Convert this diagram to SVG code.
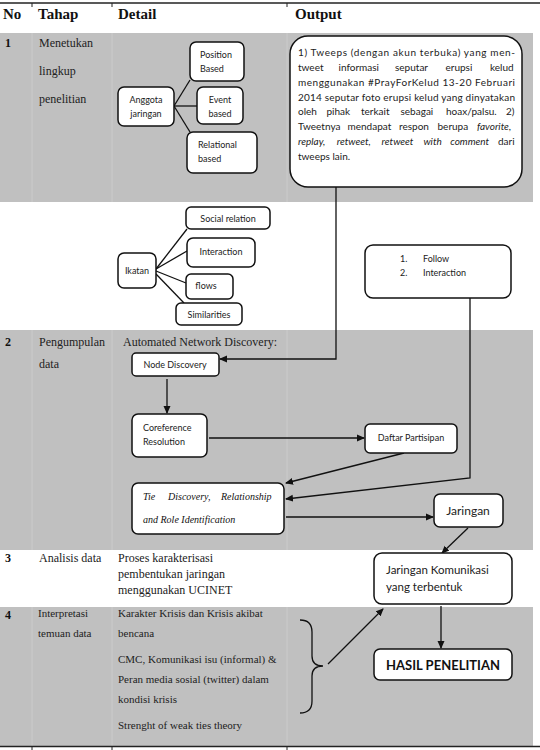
<svg xmlns="http://www.w3.org/2000/svg" width="540" height="750" viewBox="0 0 540 750">
<style>
.serif{font-family:"Liberation Serif","Times New Roman",serif;fill:#111}
.hd{font-family:"Liberation Serif",serif;font-weight:bold;font-size:15px;fill:#111}
.cell{font-family:"Liberation Serif",serif;font-size:12px;fill:#222}
.cells{font-family:"Liberation Serif",serif;font-size:11px;fill:#222}
.num{font-family:"Liberation Serif",serif;font-weight:bold;font-size:12px;fill:#111}
.box{fill:#fff;stroke:#111;stroke-width:1.5}
.lbl{font-family:Lato,"Open Sans",sans-serif;font-size:9px;fill:#222}
.tw{font-family:Lato,"Open Sans",sans-serif;font-size:10px;fill:#222}
.conn{fill:none;stroke:#111;stroke-width:1.3}
.grid{stroke:#cbcbcb;stroke-width:1}
</style>
<defs>
<marker id="ah" markerWidth="8" markerHeight="8" refX="7" refY="4" orient="auto" markerUnits="userSpaceOnUse">
<path d="M0,0.5 L8,4 L0,7.5 Z" fill="#111"/>
</marker>
</defs>
<rect width="540" height="750" fill="#fff"/>
<g id="table">
<rect x="0" y="33" width="533" height="169" fill="#c0c0c0"/>
<rect x="0" y="330" width="533" height="220" fill="#c0c0c0"/>
<rect x="0" y="607" width="533" height="139" fill="#c0c0c0"/>
<line class="grid" x1="32" y1="33" x2="32" y2="202"/>
<line class="grid" x1="112" y1="33" x2="112" y2="202"/>
<line class="grid" x1="287" y1="33" x2="287" y2="202"/>
<line class="grid" x1="32" y1="330" x2="32" y2="550"/>
<line class="grid" x1="112" y1="330" x2="112" y2="550"/>
<line class="grid" x1="287" y1="330" x2="287" y2="550"/>
<line class="grid" x1="32" y1="607" x2="32" y2="746"/>
<line class="grid" x1="112" y1="607" x2="112" y2="746"/>
<line class="grid" x1="287" y1="607" x2="287" y2="746"/>
<line x1="0" y1="3" x2="540" y2="3" stroke="#222" stroke-width="1.5"/>
<line x1="0" y1="746.5" x2="540" y2="746.5" stroke="#222" stroke-width="1.5"/>
<line x1="32" y1="3" x2="32" y2="7" stroke="#222"/>
<line x1="112" y1="3" x2="112" y2="7" stroke="#222"/>
<line x1="287" y1="3" x2="287" y2="7" stroke="#222"/>
<line x1="32" y1="746" x2="32" y2="750" stroke="#222"/>
<line x1="112" y1="746" x2="112" y2="750" stroke="#222"/>
<line x1="287" y1="746" x2="287" y2="750" stroke="#222"/>
<text class="hd" x="3" y="19">No</text>
<text class="hd" x="38" y="19">Tahap</text>
<text class="hd" x="118" y="19">Detail</text>
<text class="hd" x="295" y="19">Output</text>
<text class="num" x="5" y="47">1</text>
<text class="cell" x="39" y="47">Menetukan</text>
<text class="cell" x="39" y="75">lingkup</text>
<text class="cell" x="39" y="103">penelitian</text>
<text class="num" x="5" y="346">2</text>
<text class="cell" x="39" y="346">Pengumpulan</text>
<text class="cell" x="39" y="368">data</text>
<text class="cell" x="123" y="346">Automated Network Discovery:</text>
<text class="num" x="5" y="562">3</text>
<text class="cell" x="39" y="562">Analisis data</text>
<text class="cell" x="118" y="562">Proses karakterisasi</text>
<text class="cell" x="118" y="578">pembentukan jaringan</text>
<text class="cell" x="118" y="594">menggunakan UCINET</text>
<text class="num" x="5" y="619">4</text>
<text class="cells" x="38" y="617" font-size="10.5">Interpretasi</text>
<text class="cells" x="38" y="637" font-size="10.5">temuan data</text>
<text class="cells" x="118" y="617">Karakter Krisis dan Krisis akibat</text>
<text class="cells" x="118" y="637">bencana</text>
<text class="cells" x="118" y="663">CMC, Komunikasi isu (informal) &amp;</text>
<text class="cells" x="118" y="683">Peran media sosial (twitter) dalam</text>
<text class="cells" x="118" y="703">kondisi krisis</text>
<text class="cells" x="118" y="729">Strenght of weak ties theory</text>
</g>
<g id="connectors">
<line class="conn" x1="174" y1="106" x2="190" y2="80"/>
<line class="conn" x1="174" y1="106" x2="197" y2="106"/>
<line class="conn" x1="174" y1="106" x2="190" y2="132"/>
<line class="conn" x1="156" y1="269" x2="187" y2="229"/>
<line class="conn" x1="156" y1="269" x2="187" y2="251"/>
<line class="conn" x1="156" y1="271" x2="186" y2="283"/>
<line class="conn" x1="156" y1="274" x2="184" y2="303"/>
<polyline class="conn" points="336,187 336,359 220,359" marker-end="url(#ah)"/>
<polyline class="conn" points="470,298 470,478 286,499" marker-end="url(#ah)"/>
<line class="conn" x1="167" y1="379" x2="167" y2="413" marker-end="url(#ah)"/>
<line class="conn" x1="209" y1="438" x2="364" y2="438" marker-end="url(#ah)"/>
<line class="conn" x1="404" y1="453" x2="286" y2="483" marker-end="url(#ah)"/>
<line class="conn" x1="286" y1="517" x2="433" y2="517" marker-end="url(#ah)"/>
<line class="conn" x1="468" y1="528" x2="442" y2="553" marker-end="url(#ah)"/>
<line class="conn" x1="441" y1="606" x2="441" y2="648" marker-end="url(#ah)"/>
<line class="conn" x1="328" y1="664" x2="383" y2="609" marker-end="url(#ah)"/>
<path class="conn" d="M300,620 Q312,620 312,632 L312,656 Q312,666 323,666 Q312,666 312,676 L312,701 Q312,713 300,713"/>
</g>
<g id="anggota"><rect class="box" x="118" y="87" width="56" height="39" rx="6"/>
<text class="lbl" x="146" y="103" text-anchor="middle">Anggota</text><text class="lbl" x="146" y="117" text-anchor="middle">jaringan</text></g>
<g id="position"><rect class="box" x="190" y="42" width="54" height="39" rx="6"/>
<text class="lbl" x="200" y="58">Position</text><text class="lbl" x="200" y="72">Based</text></g>
<g id="event"><rect class="box" x="197" y="87" width="46" height="37" rx="6"/>
<text class="lbl" x="220" y="103" text-anchor="middle">Event</text><text class="lbl" x="220" y="117" text-anchor="middle">based</text></g>
<g id="relational"><rect class="box" x="187" y="132" width="70" height="41" rx="6"/>
<text class="lbl" x="198" y="148">Relational</text><text class="lbl" x="198" y="162">based</text></g>
<g id="tweeps"><rect class="box" x="290" y="36" width="232" height="151" rx="18"/>
<text class="tw" x="298" y="56" textLength="217" lengthAdjust="spacing">1) Tweeps (dengan akun terbuka) yang men-</text>
<text class="tw" y="71"><tspan x="298">tweet</tspan><tspan x="338.5">informasi</tspan><tspan x="395">seputar</tspan><tspan x="445.5">erupsi</tspan><tspan x="490">kelud</tspan></text>
<text class="tw" x="298" y="86" textLength="217" lengthAdjust="spacing">menggunakan #PrayForKelud 13-20 Februari</text>
<text class="tw" x="298" y="101" textLength="217" lengthAdjust="spacing">2014 seputar foto erupsi kelud yang dinyatakan</text>
<text class="tw" y="115"><tspan x="298">oleh</tspan><tspan x="326.5">pihak</tspan><tspan x="361">terkait</tspan><tspan x="400.5">sebagai</tspan><tspan x="446">hoax/palsu.</tspan><tspan x="506">2)</tspan></text>
<text class="tw" y="130"><tspan x="298">Tweetnya</tspan><tspan x="347.5">mendapat</tspan><tspan x="399">respon</tspan><tspan x="437.5">berupa</tspan><tspan x="477" font-style="italic">favorite,</tspan></text>
<text class="tw" y="145" font-style="italic"><tspan x="298">replay,</tspan><tspan x="336.8">retweet,</tspan><tspan x="381.6">retweet</tspan><tspan x="423.4">with</tspan><tspan x="450.2">comment</tspan><tspan x="498" font-style="normal">dari</tspan></text>
<text class="tw" x="298" y="160">tweeps lain.</text></g>
<g id="ikatan"><rect class="box" x="118" y="253" width="38" height="35" rx="6"/>
<text class="lbl" x="137" y="274" text-anchor="middle">Ikatan</text></g>
<g id="social"><rect class="box" x="186" y="207" width="84" height="22" rx="5"/>
<text class="lbl" x="228" y="222" text-anchor="middle">Social relation</text></g>
<g id="interaction"><rect class="box" x="187" y="238" width="68" height="29" rx="6"/>
<text class="lbl" x="221" y="255" text-anchor="middle">Interaction</text></g>
<g id="flows"><rect class="box" x="186" y="274" width="47" height="25" rx="5"/>
<text class="lbl" x="206" y="289" text-anchor="middle">flows</text></g>
<g id="similarities"><rect class="box" x="176" y="303" width="66" height="22" rx="5"/>
<text class="lbl" x="209" y="318" text-anchor="middle">Similarities</text></g>
<g id="follow"><rect class="box" x="365" y="245" width="146" height="53" rx="8"/>
<text class="lbl" x="400" y="262">1.</text><text class="lbl" x="423" y="262">Follow</text>
<text class="lbl" x="400" y="276">2.</text><text class="lbl" x="423" y="276">Interaction</text></g>
<g id="node-discovery"><rect class="box" x="132" y="353" width="87" height="23" rx="4"/>
<text class="lbl" x="175" y="368" text-anchor="middle">Node Discovery</text></g>
<g id="coreference"><rect class="box" x="132" y="414" width="75" height="43" rx="6"/>
<text class="lbl" x="143" y="431">Coreference</text><text class="lbl" x="143" y="445">Resolution</text></g>
<g id="daftar"><rect class="box" x="365" y="424" width="92" height="29" rx="5"/>
<text class="lbl" x="411" y="441" text-anchor="middle">Daftar Partisipan</text></g>
<g id="tie"><rect class="box" x="132" y="483" width="152" height="51" rx="6"/>
<text class="serif" font-style="italic" font-size="10" y="500"><tspan x="143">Tie</tspan><tspan x="168">Discovery,</tspan><tspan x="221">Relationship</tspan></text>
<text class="serif" font-style="italic" font-size="10" x="143" y="523">and Role Identification</text></g>
<g id="jaringan"><rect class="box" x="434" y="494" width="69" height="33" rx="6"/>
<text x="468" y="515" text-anchor="middle" font-family="Lato,sans-serif" font-size="12" fill="#222">Jaringan</text></g>
<g id="jaringan-komunikasi"><rect class="box" x="374" y="553" width="138" height="51" rx="8"/>
<text x="386" y="574" font-family="Lato,sans-serif" font-size="11.5" fill="#222">Jaringan Komunikasi</text>
<text x="386" y="591" font-family="Lato,sans-serif" font-size="11.5" fill="#222">yang terbentuk</text></g>
<g id="hasil"><rect class="box" x="374" y="649" width="138" height="31" rx="6"/>
<text x="443" y="670" text-anchor="middle" font-family="Lato,sans-serif" font-weight="bold" font-size="13" fill="#111">HASIL PENELITIAN</text></g>
</svg>
